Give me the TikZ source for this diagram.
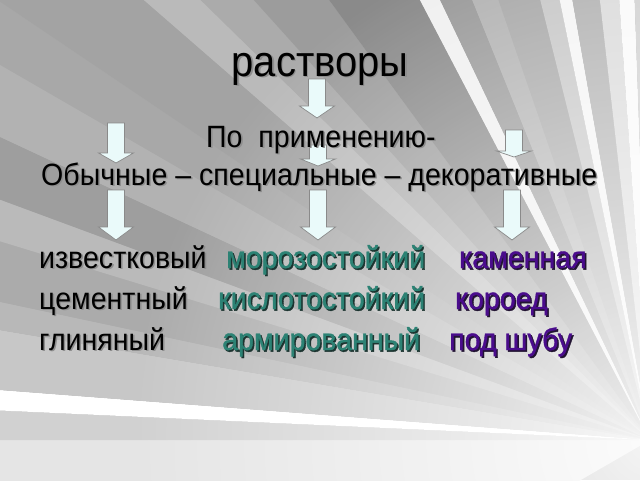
\documentclass[tikz,border=0pt]{standalone}
\usepackage{fontspec}
\setmainfont{Liberation Sans}
\newfontfamily\heavyfont[FakeBold=1.2]{Liberation Sans}
\usetikzlibrary{fadings,calc}
\tikzfading[name=radfade, inner color=transparent!0, outer color=transparent!100]
\definecolor{arrowfill}{HTML}{EAFAFA}
\definecolor{arrowline}{HTML}{8A8A8A}
\definecolor{tealw}{HTML}{2C8274}
\definecolor{tealsh}{HTML}{1C3430}
\definecolor{purpw}{HTML}{4A0C8C}
\definecolor{purpsh}{HTML}{221432}
\definecolor{blacksh}{HTML}{8E8E8E}
\tikzset{
  blockarrow/.style={draw=arrowline, fill=arrowfill, line width=0.7pt, line join=miter},
  txt/.style={anchor=base west, inner sep=0pt, xscale=1.02, yscale=1.1, font=\fontsize{28}{32}\selectfont},
  hvy/.style={txt, font=\fontsize{28}{32}\heavyfont},
  ttl/.style={anchor=base, inner sep=0pt, xscale=1.0, yscale=1.08, font=\fontsize{40}{44}\selectfont},
}
\newcommand\darrow[5]{%
  \coordinate (#1) at (#2,#3);
  \draw[blockarrow] (#2-8.5,#3) -- (#2+8.5,#3) -- (#2+8.5,#4) -- (#2+17.5,#4) -- (#2,#5) -- (#2-17.5,#4) -- (#2-8.5,#4) -- cycle;}
% shadowed text inside one box
\newcommand\shadowed[3]{%
  \makebox[0pt][l]{\hspace{1.5pt}\raisebox{-1.5pt}{\textcolor{#2}{#3}}}\textcolor{#1}{#3}}
% name, x, y, style, color, shadow color, text
\newcommand\shtxt[7]{%
  \node[#4] (#1) at (#2,#3) {\shadowed{#5}{#6}{#7}};}
\begin{document}
\begin{tikzpicture}[x=1pt,y=-1pt]
\useasboundingbox (0,0) rectangle (640,480);
\begin{scope}
\clip (0,0) rectangle (640,480);
\fill[black!32] (0,0) rectangle (640,480);
\coordinate (F) at (650,440);
\foreach \a/\b/\c in {150/180/10, 180/182.6/18, 182.6/184.4/0, 184.4/189.6/22, 189.6/192/28,
  192/197/33, 197/200.3/27, 200.3/205/38, 205/210/30, 210/214/34, 214/221/36, 221/224.4/27,
  224.4/228/33, 228/233.9/39, 233.9/242.4/46, 242.4/244.5/6, 244.5/248/40, 248/251/30,
  251/256/34, 256/258.4/22, 258.4/260/4, 260/263.5/30, 263.5/266/14, 266/268/2, 268/300/18}
  \fill[black!\c] (F) -- ($(F)+(\a:1200)$) -- ($(F)+(\b:1200)$) -- cycle;
\fill[white, path fading=radfade, opacity=0.88] (F) circle (520);
\end{scope}
% arrows
\darrow{a1}{317}{79}{106}{118}
\darrow{a2}{116}{123}{153}{163}
\darrow{a3}{318}{145}{159}{166}
\darrow{a4}{514}{130}{151}{157}
\darrow{a5}{116}{190}{227}{240}
\darrow{a6}{318}{190}{227}{240}
\darrow{a7}{512}{190}{227}{240}
% texts
\shtxt{title}{320}{76}{ttl}{black}{blacksh}{растворы}
\shtxt{po}{206}{147}{txt}{black}{blacksh}{По\ \ применению-}
\shtxt{kinds}{41}{185}{txt}{black}{blacksh}{Обычные – специальные – декоративные}
\shtxt{r1a}{39}{268}{txt}{black}{blacksh}{известковый}
\shtxt{r1b}{226}{268}{hvy}{tealw}{tealsh}{морозостойкий}
\shtxt{r1c}{459}{268}{hvy}{purpw}{purpsh}{каменная}
\shtxt{r2a}{39}{309}{txt}{black}{blacksh}{цементный}
\shtxt{r2b}{218}{309}{hvy}{tealw}{tealsh}{кислотостойкий}
\shtxt{r2c}{455}{309}{hvy}{purpw}{purpsh}{короед}
\shtxt{r3a}{39}{350}{txt}{black}{blacksh}{глиняный}
\shtxt{r3b}{222}{350}{hvy}{tealw}{tealsh}{армированный}
\shtxt{r3c}{449}{350}{hvy}{purpw}{purpsh}{под шубу}
\end{tikzpicture}
\end{document}
